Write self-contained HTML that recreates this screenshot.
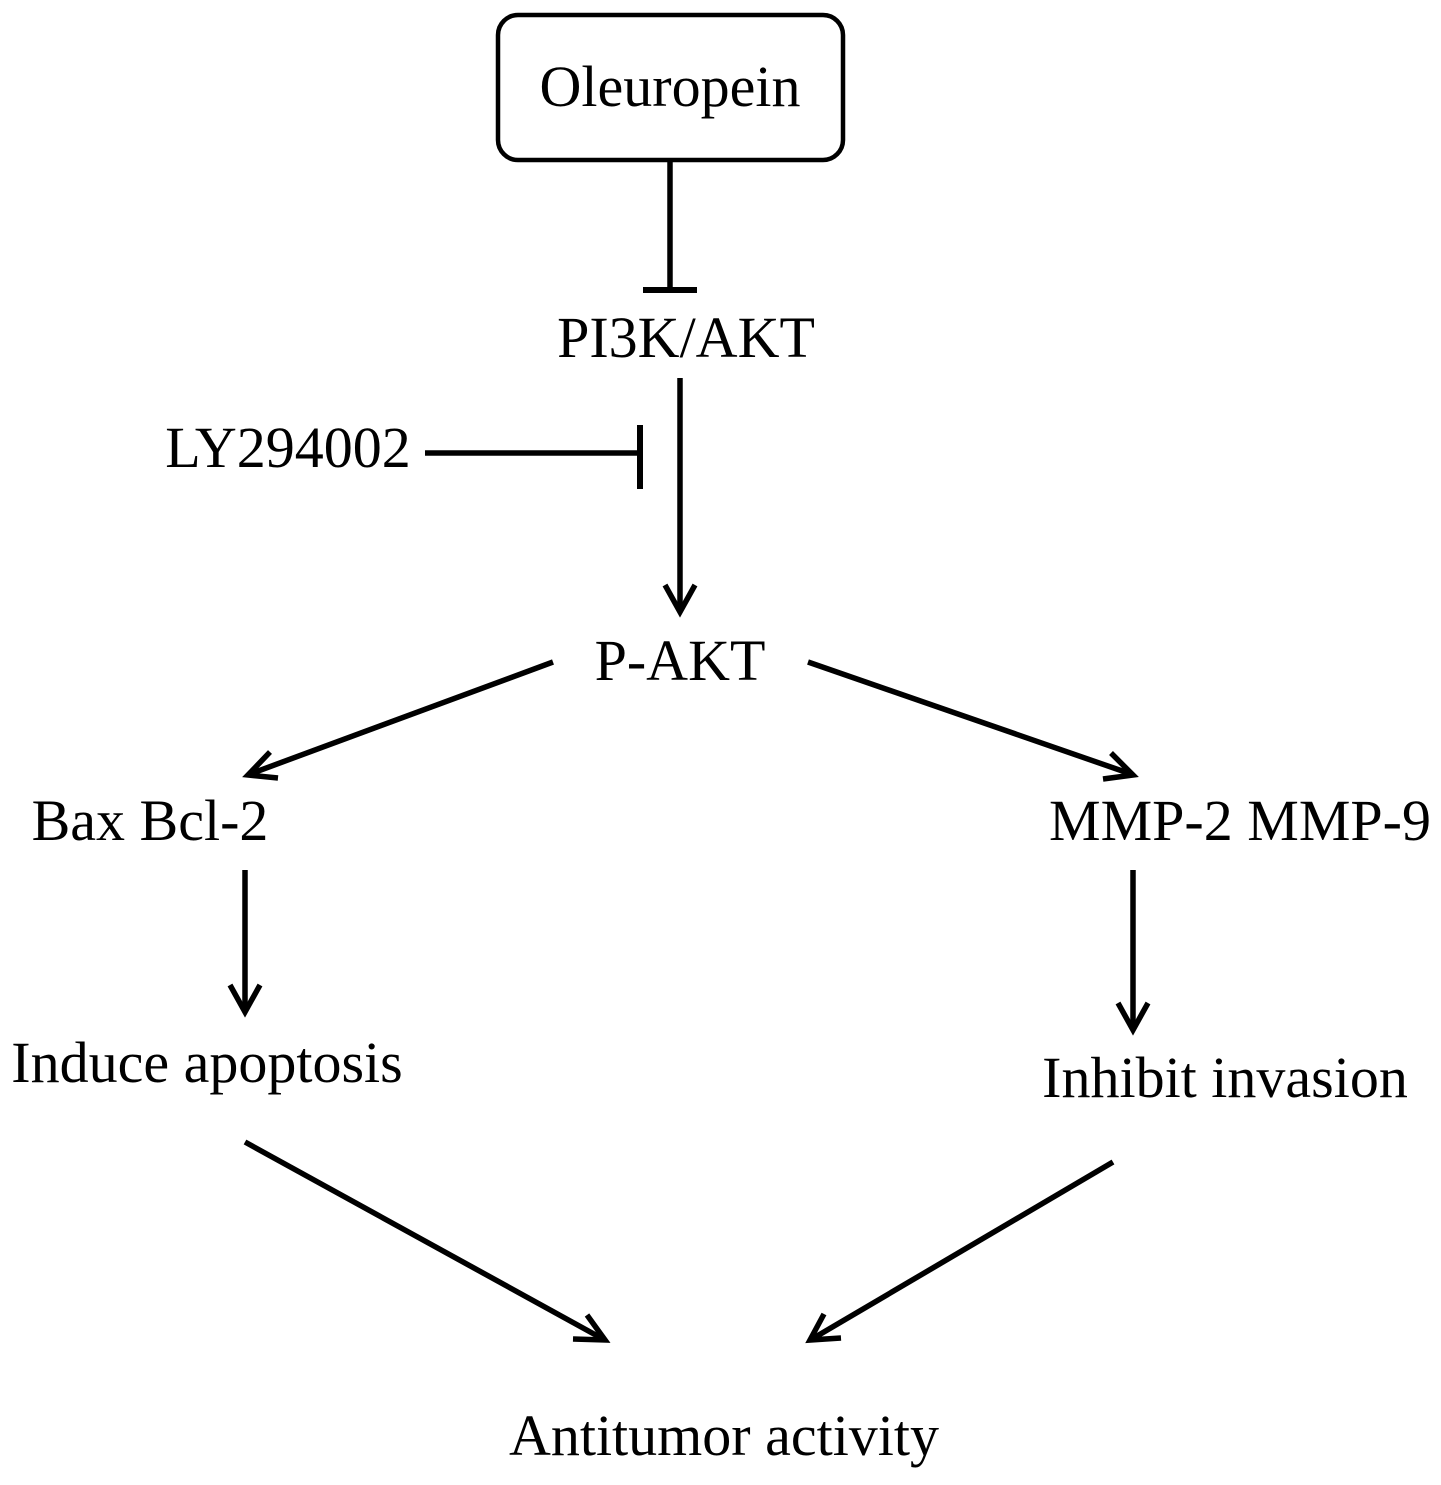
<!DOCTYPE html>
<html><head><meta charset="utf-8"><style>
html,body{margin:0;padding:0;background:#fff;}
svg text{font-family:"Liberation Serif",serif;font-size:58px;fill:#000;}
</style></head><body>
<svg width="1441" height="1480" viewBox="0 0 1441 1480" xmlns="http://www.w3.org/2000/svg">
<rect x="498" y="15" width="345" height="145" rx="20" ry="20" fill="none" stroke="#000" stroke-width="4.5"/>
<text x="670" y="106" text-anchor="middle">Oleuropein</text>
<g stroke="#000" stroke-width="5.5" fill="none" stroke-linecap="butt">
<line x1="670" y1="160" x2="670" y2="290"/>
<line x1="643" y1="290" x2="697" y2="290" stroke-width="6"/>
<line x1="680" y1="378" x2="680" y2="610"/>
<polyline points="665,585 680,612 695,585"/>
<line x1="425" y1="453" x2="640" y2="453"/>
<line x1="640" y1="425" x2="640" y2="489" stroke-width="6"/>
<line x1="553" y1="662" x2="250" y2="774"/>
<polyline points="270,752 248,775 278,778"/>
<line x1="808" y1="662" x2="1131" y2="774"/>
<polyline points="1103,779 1133,775 1111,753"/>
<line x1="245" y1="870" x2="245" y2="1010"/>
<polyline points="230,985 245,1012 260,985"/>
<line x1="1133" y1="870" x2="1133" y2="1028"/>
<polyline points="1118,1003 1133,1030 1148,1003"/>
<line x1="245" y1="1142" x2="603" y2="1339"/>
<polyline points="573,1339 605,1340 587,1315"/>
<line x1="1113" y1="1162" x2="812" y2="1339"/>
<polyline points="824,1314 810,1340 841,1338"/>
</g>
<text x="686" y="357" text-anchor="middle">PI3K/AKT</text>
<text x="288" y="467" text-anchor="middle">LY294002</text>
<text x="680" y="680" text-anchor="middle">P-AKT</text>
<text x="150" y="840" text-anchor="middle">Bax Bcl-2</text>
<text x="1240" y="840" text-anchor="middle">MMP-2 MMP-9</text>
<text x="207" y="1082" text-anchor="middle">Induce apoptosis</text>
<text x="1225" y="1097" text-anchor="middle">Inhibit invasion</text>
<text x="724" y="1455" text-anchor="middle">Antitumor activity</text>
</svg>
</body></html>
